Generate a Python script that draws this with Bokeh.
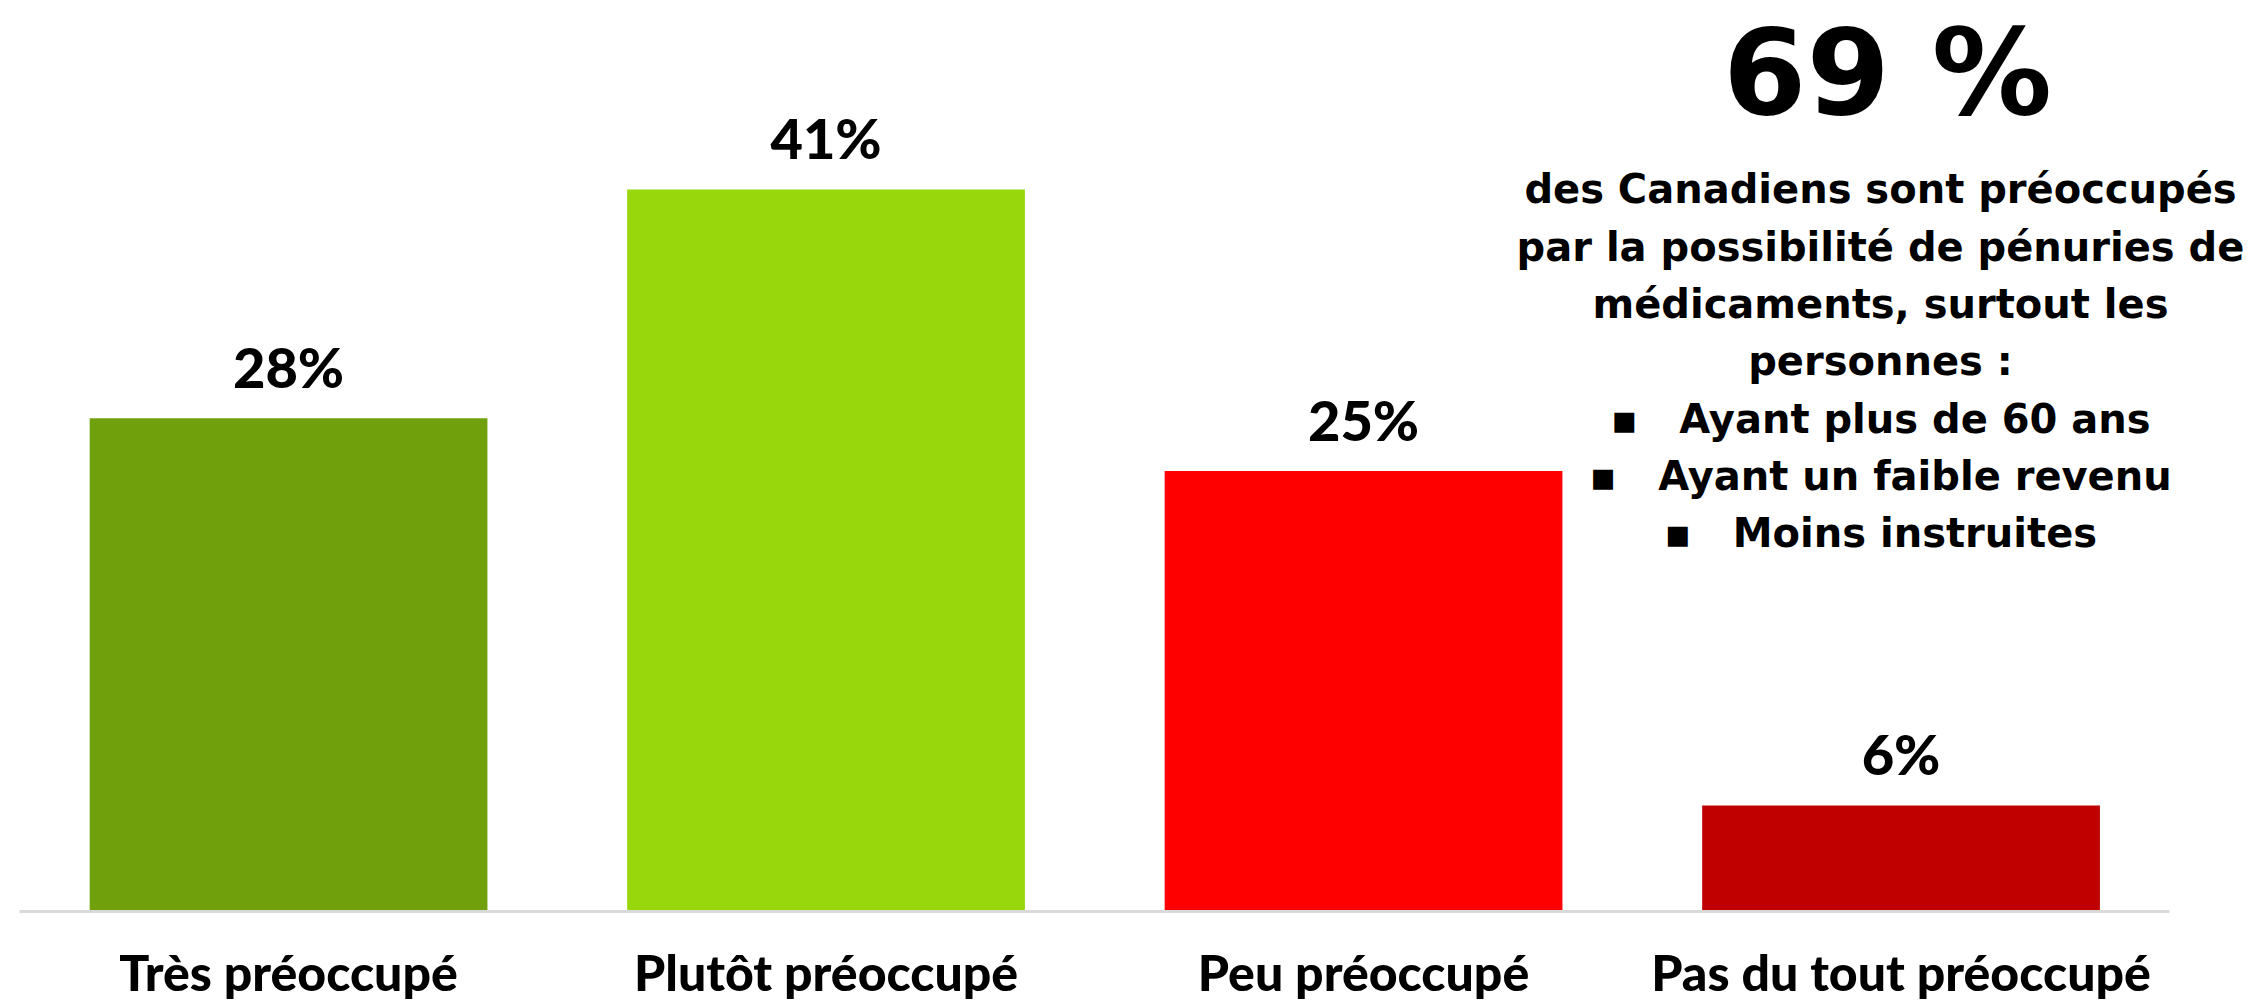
from bokeh.plotting import figure
from bokeh.models import ColumnDataSource, LabelSet, Range1d, FixedTicker
from bokeh.core.properties import value
from bokeh.embed import file_html
from bokeh.resources import INLINE

categories = ["Très préoccupé", "Plutôt préoccupé", "Peu préoccupé", "Pas du tout préoccupé"]
values = [28, 41, 25, 6]
value_labels = ["28%", "41%", "25%", "6%"]
headline = "69 %"
NB = "\u00a0"
note_lines = [
    "des Canadiens sont préoccupés",
    "par la possibilité de pénuries de",
    "médicaments, surtout les",
    "personnes :",
    "▪" + NB * 3 + "Ayant plus de 60 ans",
    "▪" + NB * 3 + "Ayant un faible revenu",
    "▪" + NB * 3 + "Moins instruites",
]

colors = ["#70A00C", "#97D70C", "#FF0000", "#C00000"]

W, H = 2254, 1001
ORIGIN_X = 19.3      # page x of the left end of the category axis
BASE_Y = 910.5       # page y of the baseline
PX_PER_CAT = 537.5
PX_PER_PCT = 17.6
x0 = -ORIGIN_X / PX_PER_CAT
x1 = x0 + W / PX_PER_CAT
y1 = BASE_Y / PX_PER_PCT
y0 = y1 - H / PX_PER_PCT


def xdata(page_x):
    return (page_x - ORIGIN_X) / PX_PER_CAT


def ydata(page_y):
    return (BASE_Y - page_y) / PX_PER_PCT


p = figure(width=W, height=H, output_backend="svg", toolbar_location=None,
           x_range=Range1d(x0, x1), y_range=Range1d(y0, y1),
           min_border_left=0, min_border_right=0, min_border_top=0, min_border_bottom=0)
p.outline_line_color = None
p.grid.visible = False
p.yaxis.visible = False
p.background_fill_color = "white"
p.border_fill_color = "white"

xs = [i + 0.5 for i in range(len(categories))]
src = ColumnDataSource(dict(x=xs, top=values, color=colors, lab=value_labels))
p.vbar(x="x", top="top", width=0.74, bottom=0, color="color", line_color=None, source=src)

ax = p.xaxis[0]
ax.fixed_location = 0
ax.ticker = FixedTicker(ticks=xs)
ax.major_label_overrides = {x: c for x, c in zip(xs, categories)}
ax.bounds = (0, len(categories))
ax.axis_line_color = "#D9D9D9"
ax.axis_line_width = 3
ax.major_tick_line_color = None
ax.minor_tick_line_color = None
ax.major_tick_out = 0
ax.major_tick_in = 0
ax.major_label_standoff = 31
ax.major_label_text_font = "Lato Black"
ax.major_label_text_font_style = "normal"
ax.major_label_text_font_size = "50px"
ax.major_label_text_color = "black"

labels = LabelSet(x="x", y="top", text="lab", source=src, text_align="center",
                  text_baseline="alphabetic", y_offset=30, text_font=value("Lato Black"),
                  text_font_style="normal", text_font_size="56px", text_color="black")
p.add_layout(labels)

head_src = ColumnDataSource(dict(x=[xdata(1887)], y=[ydata(113)], t=[headline]))
p.add_layout(LabelSet(x="x", y="y", text="t", source=head_src, text_align="center",
                      text_baseline="alphabetic", text_font=value("DejaVu Sans"),
                      text_font_style="bold", text_font_size="120px", text_color="black"))

line_baselines = [202, 260, 317, 374, 432, 489, 546]
note_src = ColumnDataSource(dict(x=[xdata(1880)] * len(note_lines),
                                 y=[ydata(b) for b in line_baselines], t=note_lines))
p.add_layout(LabelSet(x="x", y="y", text="t", source=note_src, text_align="center",
                      text_baseline="alphabetic", text_font=value("DejaVu Sans"),
                      text_font_style="bold", text_font_size="40px", text_color="black"))

open("out.html", "w").write(file_html(p, INLINE))
